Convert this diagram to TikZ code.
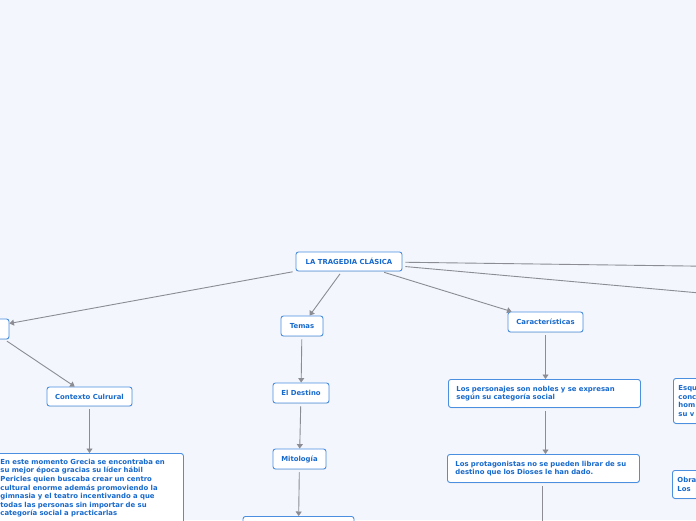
\documentclass[tikz,border=0pt]{standalone}
\usepackage{fontspec}
\setmainfont{DejaVu Sans}
\usetikzlibrary{arrows.meta, positioning, shadows}
\definecolor{fondo}{HTML}{F3F6FD}
\definecolor{borde}{HTML}{4A8FE0}
\definecolor{texto}{HTML}{1769CC}
\definecolor{linea}{HTML}{8C8D94}

\begin{document}
\begin{tikzpicture}[
    x=1pt, y=-1pt,
    every node/.style={font=\bfseries\fontsize{6.9}{8.6}\selectfont, text=texto},
    n/.style={draw=borde, line width=0.9pt, rounded corners=2.5pt, fill=white,
              inner sep=3pt, drop shadow={opacity=0.15, shadow xshift=0.4pt, shadow yshift=-0.8pt}},
    txt/.style={n, align=left, anchor=north west, inner xsep=5pt},
    arr/.style={-{Triangle[length=4.5pt, width=6pt]}, line width=0.9pt, draw=linea, shorten <=3pt}
]
    \clip (0,0) rectangle (696,520);
    \fill[fondo] (0,0) rectangle (696,520);

    % ===== raiz =====
    \node[n, minimum width=106pt, minimum height=19pt] (raiz) at (349,261.5) {LA TRAGEDIA CLÁSICA};

    % ===== rama izquierda =====
    \node[n, minimum width=60pt, minimum height=20pt] (izq) at (-21,329) {};
    \node[n, minimum width=85pt, minimum height=19pt] (ctx) at (89.5,396.5) {Contexto Culrural};
    \node[txt, text width=178pt, inner xsep=5pt, inner ysep=5.5pt] (grecia) at (-5,453) {En este momento Grecia se encontraba en\\
        su mejor época gracias su líder hábil\\
        Pericles quien buscaba crear un centro\\
        cultural enorme además promoviendo la\\
        gimnasia y el teatro incentivando a que\\
        todas las personas sin importar de su\\
        categoría social a practicarlas\\ \mbox{}};
    \draw[arr] (raiz) -- (izq);
    \draw[arr] ([xshift=-5pt]izq.south east) -- (ctx);
    \draw[arr] (ctx) -- (grecia.north -| ctx);

    % ===== temas =====
    \node[n, minimum width=42pt, minimum height=20pt] (temas) at (302,326) {Temas};
    \node[n, minimum width=56pt, minimum height=20pt] (destino) at (301,393) {El Destino};
    \node[n, minimum width=53pt, minimum height=20pt] (mito) at (299.5,459) {Mitología};
    \node[n, minimum width=111pt, minimum height=20pt, anchor=north] (mito2) at (298.5,516) {};
    \draw[arr] (raiz) -- (temas);
    \draw[arr] (temas) -- (destino);
    \draw[arr] (destino) -- (mito);
    \draw[arr] (mito) -- (mito2);

    % ===== caracteristicas =====
    \node[n, minimum width=75pt, minimum height=20pt] (carac) at (545.5,322) {Características};
    \node[txt, text width=176pt, inner xsep=8pt, minimum height=28pt] (pers) at (448,379) {Los personajes son nobles y se expresan\\según su categoría social};
    \node[txt, text width=176pt, inner xsep=8pt, minimum height=28pt] (prot) at (447,454) {Los protagonistas no se pueden librar de su\\destino que los Dioses le han dado.};
    \coordinate (prot2) at (542,540);
    \draw[arr] (raiz) -- (carac);
    \draw[arr] (carac) -- (pers.north -| carac);
    \draw[arr] (pers.south -| carac) -- (prot.north -| carac);
    \draw[arr] (prot.south -| prot2) -- (prot2);

    % ===== rama derecha =====
    \coordinate (der1) at (800,267.5);
    \coordinate (der2) at (800,302);
    \node[txt, text width=80pt, minimum height=45pt] (esq) at (673,378) {Esqu\\conc\\hom\\su v};
    \node[txt, text width=80pt, minimum height=28pt] (obra) at (672,470) {Obra\\Los};
    \draw[arr] (raiz) -- (der1);
    \draw[arr] (raiz) -- (der2);
\end{tikzpicture}
\end{document}
